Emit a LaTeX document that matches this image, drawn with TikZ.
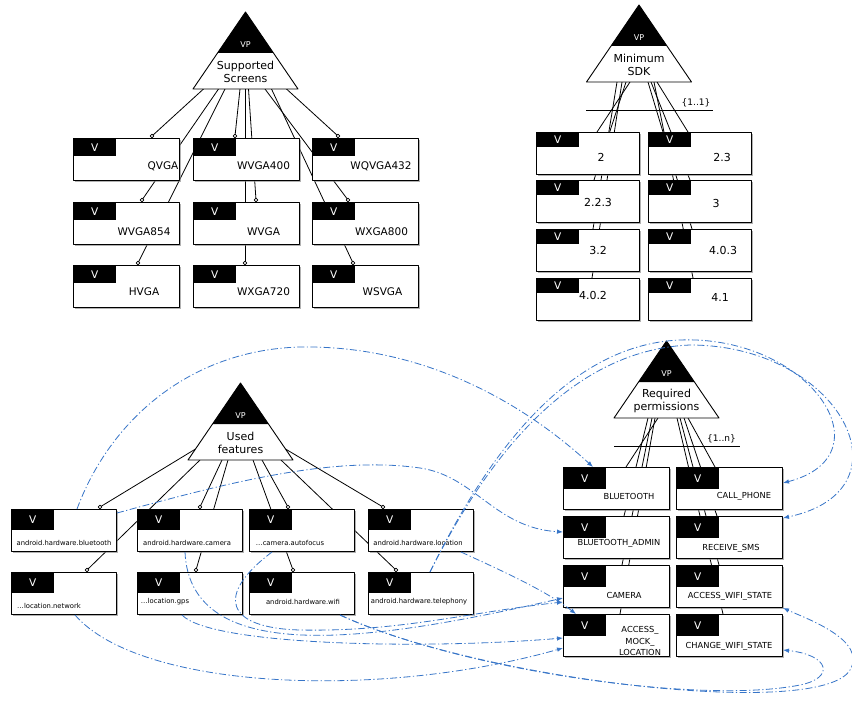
\documentclass[tikz,border=0pt]{standalone}
\usepackage{fontspec}
\setsansfont{DejaVu Sans}
\usetikzlibrary{arrows.meta,calc,positioning,shadows,backgrounds}
\definecolor{linkblue}{HTML}{3775C8}
\definecolor{shadowgray}{HTML}{808080}

\begin{document}
\begin{tikzpicture}[x=1pt, y=-1pt, font=\sffamily, line join=round,
  vbox/.style={draw, fill=white, line width=1pt, anchor=north west,
    minimum width=#1, minimum height=42pt, inner sep=0pt,
    drop shadow={shadow xshift=1.2pt, shadow yshift=-1.2pt, fill=shadowgray, opacity=.6}},
  vhead/.style={fill=black, text=white, anchor=north west, inner sep=0pt,
    minimum width=43pt, minimum height=#1, font=\sffamily\fontsize{10.5}{12}\selectfont},
  vpmark/.style={text=white, inner sep=0pt, font=\sffamily\fontsize{8}{9}\selectfont},
  vpname/.style={align=center, inner sep=0pt, font=\sffamily\fontsize{11}{13}\selectfont},
  scrtext/.style={inner sep=0pt, font=\sffamily\fontsize{10.5}{12}\selectfont},
  sdktext/.style={inner sep=0pt, font=\sffamily\fontsize{11}{13}\selectfont},
  feattext/.style={inner sep=0pt, font=\sffamily\fontsize{6.8}{8}\selectfont},
  permtext/.style={inner sep=0pt, align=center, font=\sffamily\fontsize{8.3}{11.5}\selectfont},
  card/.style={inner sep=0pt, font=\sffamily\fontsize{9}{10}\selectfont},
  tie/.style={line width=.8pt},
  optmark/.style={draw, fill=white, line width=.7pt},
  requires/.style={draw=linkblue, line width=.8pt,
    dash pattern=on 7pt off 2.5pt on 1.2pt off 2.5pt, -{Latex[length=6pt,width=4.5pt]}}
]
  \begin{scope}[on background layer]
    \fill[white] (0,0) rectangle (852,701);
  \end{scope}
  \path[use as bounding box] (0,0) rectangle (852,701);

  % variation points: base midpoint, black cap, name
  \foreach \nm/\px/\py/\lbl in {ss/245.5/89/{Supported\\Screens}, sdk/639/82/{Minimum\\SDK},
      uf/240.5/460/{Used\\features}, rp/666.5/418/{Required\\permissions}} {
    \coordinate (\nm) at (\px,\py);
    \draw[fill=white, line width=.9pt] ($(\nm)+(-52.5,0)$) -- ($(\nm)+(0,-77)$) -- ($(\nm)+(52.5,0)$) -- cycle;
    \fill ($(\nm)+(0,-77)$) -- ($(\nm)+(28,-36)$) -- ($(\nm)+(-28,-36)$) -- cycle;
    \node[vpmark] (\nm-vp) at ($(\nm)+(0,-44)$) {VP};
    \node[vpname] (\nm-t) at ($(\nm)+(0,-17.5)$) {\lbl};
  }

  % supported screens
  \foreach \nm/\px/\py/\lx/\ly/\lbl in {
      qvga/73/138/163/166/QVGA, wvga400/193/138/263.5/166/WVGA400, wqvga432/312/138/381/166/WQVGA432,
      wvga854/73/202/144/232/WVGA854, wvga/193/202/263.5/232/WVGA, wxga800/312/202/381.5/232/WXGA800,
      hvga/73/265/144/292/HVGA, wxga720/193/265/263.5/292/WXGA720, wsvga/312/265/382.5/292/WSVGA} {
    \node[vbox=106pt] (\nm) at (\px,\py) {};
    \node[vhead=18pt] (\nm-h) at (\nm.north west) {V};
    \node[scrtext] (\nm-t) at (\lx,\ly) {\lbl};
  }
  \foreach \nm/\sx/\ex in {qvga/-42/79, wvga854/-27/69, hvga/-20.5/65, wvga400/-5.5/42, wxga720/-.5/52,
      wvga/3/63, wxga800/19.5/36, wsvga/26/41, wqvga432/41/26} {
    \begin{scope}[on background layer]
      \draw[tie] ($(ss)+(\sx,0)$) -- ($(\nm.north west)+(\ex,-2)$);
    \end{scope}
    \draw[optmark] ($(\nm.north west)+(\ex,-2)$) circle[radius=1.8];
  }

  % minimum sdk, {1..1}
  \foreach \nm/\px/\py/\lx/\ly/\lbl in {
      s2/536/132/601/157/2, s23/648/132/722/157/2.3, s223/536/180/598/202/2.2.3, s3/648/180/716/203/3,
      s32/536/229/598/250/3.2, s403/648/229/723/250/4.0.3, s402/536/278/593/295/4.0.2, s41/648/278/720/297/4.1} {
    \node[vbox=103pt] (\nm) at (\px,\py) {};
    \node[vhead=15pt] (\nm-h) at (\nm.north west) {V};
    \node[sdktext] (\nm-t) at (\lx,\ly) {\lbl};
  }
  \begin{scope}[on background layer]
    \foreach \nm/\sx/\ex in {s2/-9/61, s223/-13/58, s402/-17/56, s32/-22/57,
        s23/18/40, s3/12/42, s403/9/44, s41/15/45}
      \draw[tie] ($(sdk)+(\sx,0)$) -- ($(\nm.north west)+(\ex,0)$);
  \end{scope}
  \draw[tie] ($(sdk)+(-53,28)$) -- ($(sdk)+(74,28)$);
  \node[card] (sdk-card) at ($(sdk)+(57,21)$) {\{1..1\}};

  % used features
  \foreach \nm/\px/\py/\lx/\ly/\lbl in {
      fbt/11/509/64/543/android.hardware.bluetooth, fcam/137/509/187/543/android.hardware.camera,
      faf/249/509/290/543/\ldots{}camera.autofocus, floc/368/509/418/543/android.hardware.location,
      fnet/11/572/49/606/\ldots{}location.network, fgps/137/572/165/602/\ldots{}location.gps,
      fwifi/249/572/303/602/android.hardware.wifi, ftel/368/572/419/602/android.hardware.telephony} {
    \node[vbox=105pt] (\nm) at (\px,\py) {};
    \node[vhead=21pt] (\nm-h) at (\nm.north west) {V};
    \node[feattext] (\nm-t) at (\lx,\ly) {\lbl};
  }
  \foreach \nm/\sx/\sy/\ex in {fbt/-45/-11/89, fnet/-40.5/0/76, fcam/-18.5/0/63, fgps/-12.5/0/59,
      fwifi/12.5/0/44, faf/21.5/0/39, ftel/40.5/0/28, floc/45/-11/15} {
    \begin{scope}[on background layer]
      \draw[tie] ($(uf)+(\sx,\sy)$) -- ($(\nm.north west)+(\ex,-2)$);
    \end{scope}
    \draw[optmark] ($(\nm.north west)+(\ex,-2)$) circle[radius=1.8];
  }

  % required permissions, {1..n}
  \foreach \nm/\px/\py/\lx/\ly/\lbl in {
      pbt/563/467/629/496/BLUETOOTH, pcall/676/467/744/496/CALL\_PHONE,
      pbtadm/563/516/619/543/BLUETOOTH\_ADMIN, psms/676/516/731/548/RECEIVE\_SMS,
      pcam/563/565/624/595/CAMERA, pawifi/676/565/730/596/ACCESS\_WIFI\_STATE,
      pmock/563/614/640/641/{ACCESS\_\\MOCK\_\\LOCATION}, pcwifi/676/614/729/646/CHANGE\_WIFI\_STATE} {
    \node[vbox=106pt] (\nm) at (\px,\py) {};
    \node[vhead=22pt] (\nm-h) at (\nm.north west) {V};
    \node[permtext] (\nm-t) at (\lx,\ly) {\lbl};
  }
  \begin{scope}[on background layer]
    \foreach \nm/\sx/\ex in {pbt/-8.5/63, pbtadm/-18.5/61, pcam/-14.5/59, pmock/-11.5/57,
        pcall/21.5/39, psms/17.5/41, pawifi/13.5/43, pcwifi/10.5/47}
      \draw[tie] ($(rp)+(\sx,0)$) -- ($(\nm.north west)+(\ex,0)$);
  \end{scope}
  \draw[tie] ($(rp)+(-52.5,28)$) -- ($(rp)+(73.5,28)$);
  \node[card] (rp-card) at ($(rp)+(55,21)$) {\{1..n\}};

  % feature -> permission constraints
  \draw[requires] ($(fbt.north west)+(66,0)$) .. controls (110,420) and (190,350) .. (300,347)
    .. controls (420,345) and (520,400) .. ($(pbt.north west)+(30,0)$);
  \draw[requires] ($(fbt.north east)+(0,4)$) .. controls (220,485) and (330,455) .. (420,468)
    .. controls (475,476) and (495,528) .. ($(pbtadm.north west)+(0,16)$);
  \draw[requires] ($(fcam.south west)+(48,0)$) .. controls (190,670) and (380,640) .. ($(pcam.north west)+(0,33)$);
  \draw[requires] ($(faf.south west)+(23,0)$) .. controls (215,595) and (225,628) .. (300,630)
    .. controls (400,632) and (470,612) .. ($(pcam.north west)+(0,37)$);
  \draw[requires] ($(floc.south east)+(-13,0)$) .. controls (500,570) and (545,590) .. ($(pmock.north west)+(13,0)$);
  \draw[requires] ($(fgps.south west)+(45,0)$) .. controls (210,645) and (420,650) .. ($(pmock.north west)+(0,24)$);
  \draw[requires] ($(fnet.south west)+(64,0)$) .. controls (140,690) and (380,700) .. ($(pmock.north west)+(0,34)$);
  \draw[requires] ($(ftel.north west)+(62,0)$) .. controls (480,470) and (560,345) .. (680,340)
    .. controls (810,335) and (890,455) .. ($(pcall.north east)+(0,16)$);
  \draw[requires] ($(ftel.north west)+(62,0)$) .. controls (482,468) and (565,350) .. (690,345)
    .. controls (840,345) and (915,490) .. ($(psms.north east)+(0,2)$);
  \draw[requires] ($(fwifi.south west)+(91,0)$) .. controls (480,680) and (820,720) .. (850,670)
    .. controls (868,640) and (805,618) .. (pawifi.south east);
  \draw[requires] ($(fwifi.south west)+(91,0)$) .. controls (460,670) and (700,705) .. (800,685)
    .. controls (835,678) and (830,655) .. ($(pcwifi.north east)+(0,36)$);
\end{tikzpicture}
\end{document}
